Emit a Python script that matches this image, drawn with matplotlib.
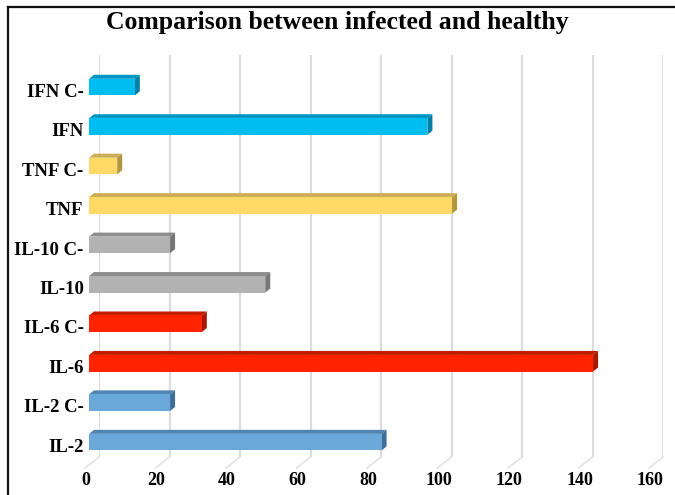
import numpy as np
import matplotlib.pyplot as plt
from matplotlib.patches import Polygon
from matplotlib.transforms import Affine2D
from matplotlib.lines import Line2D

# cytokine levels, bottom to top
labels = ['IL-2', 'IL-2 C-', 'IL-6', 'IL-6 C-', 'IL-10', 'IL-10 C-',
          'TNF', 'TNF C-', 'IFN', 'IFN C-']
values = [83, 23, 143, 32, 50, 23, 103, 8, 96, 13]
front_colors = ['#6AA8DA', '#6AA8DA', '#FF2300', '#FF2300', '#B2B2B2', '#B2B2B2',
                '#FFD966', '#FFD966', '#00BDEF', '#00BDEF']
top_colors = ['#4F84B4', '#4F84B4', '#C41C00', '#C41C00', '#8E8E8E', '#8E8E8E',
              '#CDAE52', '#CDAE52', '#0095C2', '#0095C2']
side_colors = ['#3F6E98', '#3F6E98', '#A81800', '#A81800', '#777777', '#777777',
               '#B3973F', '#B3973F', '#007FA6', '#007FA6']
xticks = [0, 20, 40, 60, 80, 100, 120, 140, 160]

plt.rcParams['font.family'] = ['Liberation Serif', 'DejaVu Serif']
plt.rcParams['font.weight'] = 'bold'

fig = plt.figure(figsize=(6.75, 4.95), dpi=100)
ax = fig.add_axes([99 / 675, 38 / 495, 564 / 675, 402 / 495])
ax.set_xlim(0, 160)
ax.set_ylim(-0.58, 9.61)
for s in ax.spines.values():
    s.set_visible(False)

# pixel -> data conversion for the fake 3d depth
def px_to_data(dx, dy):
    p0 = ax.transData.transform((0, 0))
    d = ax.transData.inverted().transform(p0 + np.array([dx, dy]))
    return d[0], d[1]

fx, fy = px_to_data(-10, -8)     # front plane offset
tx, ty = px_to_data(5, 4)        # bar depth
floor_x, floor_y = px_to_data(-14, -11)

# back wall gridlines and floor lines
for t in xticks:
    ax.axvline(t, color='#DCDCDC', lw=1.6, zorder=0)
    ax.add_line(Line2D([t, t + floor_x], [-0.58, -0.58 + floor_y],
                       color='#E2E2E2', lw=1.2, clip_on=False, zorder=0))

h = 0.42
pos = np.arange(len(labels))
for i, (v, fc, tc, sc) in enumerate(zip(values, front_colors, top_colors, side_colors)):
    x0 = fx
    x1 = v + fx
    yb = i + fy - h / 2
    yt = i + fy + h / 2
    ax.add_patch(Polygon([(x0, yt), (x1, yt), (x1 + tx, yt + ty), (x0 + tx, yt + ty)],
                         closed=True, facecolor=tc, edgecolor='none', clip_on=False, zorder=3))
    ax.add_patch(Polygon([(x1, yb), (x1, yt), (x1 + tx, yt + ty), (x1 + tx, yb + ty)],
                         closed=True, facecolor=sc, edgecolor='none', clip_on=False, zorder=3))
ax.barh(pos + fy, values, left=fx, height=h, color=front_colors,
        edgecolor='none', clip_on=False, zorder=4)

ax.set_yticks(pos + fy - 0.08)
ax.set_yticklabels(labels, fontsize=13.5, fontweight='bold')
ax.tick_params(axis='y', length=0, pad=11)
ax.set_xticks(xticks)
ax.set_xticklabels([str(t) for t in xticks], fontsize=13, fontweight='bold')
ax.tick_params(axis='x', length=0, pad=11)
for lab in ax.get_xticklabels():
    lab.set_transform(lab.get_transform() + Affine2D().translate(-13, 0))

fig.text(0.5, 1 - 23 / 495, 'Comparison between infected and healthy',
         ha='center', va='center', fontsize=18.5, fontweight='bold')

# frame lines along the top and left of the picture
fig.add_artist(Line2D([8 / 675, 8 / 675], [0, 1 - 7 / 495], color='#111111', lw=1.6))
fig.add_artist(Line2D([8 / 675, 1], [1 - 7 / 495, 1 - 7 / 495], color='#111111', lw=1.6))

fig.savefig('out.png', dpi=100)
